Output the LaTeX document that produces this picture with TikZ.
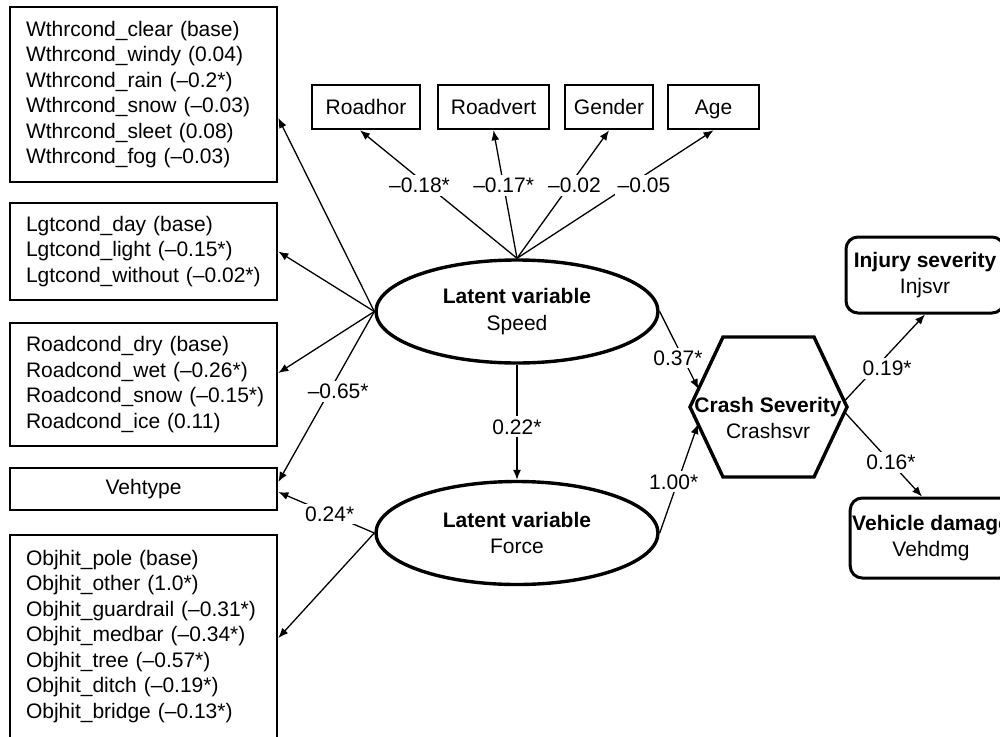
\documentclass[tikz,border=0pt]{standalone}
\usepackage{fontspec}
\setmainfont{Liberation Sans}
\usetikzlibrary{shapes.geometric,arrows.meta,calc}
\begin{document}
\begin{tikzpicture}[x=1pt,y=-1pt,
  every node/.style={font=\fontsize{21}{25.5}\selectfont},
  listbox/.style={draw,line width=2.6pt,text width=235pt,inner xsep=16pt,inner ysep=0pt,align=left},
  varbox/.style={draw,line width=2.6pt,minimum height=44pt,inner xsep=4pt,text height=17pt,text depth=2.5pt},
  latent/.style={draw,ellipse,line width=3.4pt,minimum width=282pt,minimum height=103pt,inner sep=0pt,align=center},
  outbox/.style={draw,rounded corners=12pt,line width=3pt,minimum width=158pt,inner xsep=2pt,align=center},
  conn/.style={line width=1.3pt,-{Latex[length=10pt,width=8pt]}},
  lab/.style={fill=white,inner sep=3pt}
]
\useasboundingbox (0,0) rectangle (1000,736);

% left list boxes
\node[listbox,minimum height=175pt] (wthr) at (143.5,94.5) {Wthrcond\_clear (base)\\Wthrcond\_windy (0.04)\\Wthrcond\_rain (–0.2*)\\Wthrcond\_snow (–0.03)\\Wthrcond\_sleet (0.08)\\Wthrcond\_fog (–0.03)};
\node[listbox,minimum height=97pt] (lgt) at (143.5,251.5) {Lgtcond\_day (base)\\Lgtcond\_light (–0.15*)\\\mbox{Lgtcond\_without (–0.02*)}};
\node[listbox,minimum height=123pt] (road) at (143.5,384.5) {Roadcond\_dry (base)\\Roadcond\_wet (–0.26*)\\\mbox{Roadcond\_snow (–0.15*)}\\Roadcond\_ice (0.11)};
\node[listbox,minimum height=42pt,align=center] (veh) at (143.5,489) {Vehtype};
\node[listbox,minimum height=203pt] (obj) at (143.5,636.5) {Objhit\_pole (base)\\Objhit\_other (1.0*)\\\mbox{Objhit\_guardrail (–0.31*)}\\Objhit\_medbar (–0.34*)\\Objhit\_tree (–0.57*)\\Objhit\_ditch (–0.19*)\\Objhit\_bridge (–0.13*)};

% top boxes
\node[varbox,minimum width=108pt] (roadhor) at (366,107) {Roadhor};
\node[varbox,minimum width=111pt] (roadvert) at (493.5,107) {Roadvert};
\node[varbox,minimum width=88pt] (gender) at (609,107) {Gender};
\node[varbox,minimum width=91pt] (age) at (713.5,107) {Age};

% latent variables
\node[latent] (speed) at (517,311.5) {\textbf{Latent variable}\\[1pt]Speed};
\node[latent] (force) at (517,533) {\textbf{Latent variable}\\[1pt]Force};

% hexagon geometry
\coordinate (hL) at (690,407);
\coordinate (hTL) at (723,337);
\coordinate (hTR) at (814,337);
\coordinate (hR) at (847,407);
\coordinate (hBR) at (814,477);
\coordinate (hBL) at (723,477);
\coordinate (hin1) at (698.5,389);
\coordinate (hin2) at (698,424);
\coordinate (hout1) at (844.5,401);
\coordinate (hout2) at (844.5,412);
\node[align=center] (crash) at (768,418) {\textbf{Crash Severity}\\[1pt]Crashsvr};

% outcome boxes
\node[outbox,minimum height=76pt] (injury) at (925,275) {\textbf{Injury severity}\\Injsvr};
\node[outbox,minimum height=80pt] (vehicle) at (931,538) {\textbf{Vehicle damage}\\Vehdmg};

% connectors from Speed
\draw[conn] (speed.west) -- ([yshift=-23.5pt]wthr.east);
\draw[conn] (speed.west) -- (lgt.east);
\draw[conn] (speed.west) -- ([yshift=11.5pt]road.east);
\draw[conn] (speed.west) -- node[lab,pos=0.47,xshift=9pt]{–0.65*} ([yshift=7pt]veh.east);
\draw[conn] (speed.north) -- node[lab,pos=0.57,xshift=-8pt]{–0.18*} ([xshift=-6pt]roadhor.south);
\draw[conn] (speed.north) -- node[lab,pos=0.57]{–0.17*} (roadvert.south);
\draw[conn] (speed.north) -- node[lab,pos=0.57,xshift=5pt]{–0.02} (gender.south);
\draw[conn] (speed.north) -- node[lab,pos=0.57,xshift=15pt]{–0.05} (age.south);
\draw[conn] (speed.south) -- node[lab,pos=0.54]{0.22*} (force.north);
\draw[conn] (speed.east) -- node[lab,pos=0.6,xshift=-5pt]{0.37*} (hin1);

% connectors from Force
\draw[conn] (force.west) -- node[lab,pos=0.465]{0.24*} ([yshift=-3pt]veh.east);
\draw[conn] (force.west) -- ([yshift=-1.5pt]obj.east);
\draw[conn] (force.east) -- node[lab,pos=0.47,xshift=-4pt]{1.00*} (hin2);

% connectors from Crash Severity
\draw[conn] (hout1) -- node[lab,pos=0.38,xshift=12pt]{0.19*} (injury.south);
\draw[conn] (hout2) -- node[lab,pos=0.6]{0.16*} ([xshift=-9pt]vehicle.north);

% hexagon outline drawn last
\draw[line width=3.4pt] (hL) -- (hTL) -- (hTR) -- (hR) -- (hBR) -- (hBL) -- cycle;
\end{tikzpicture}
\end{document}
